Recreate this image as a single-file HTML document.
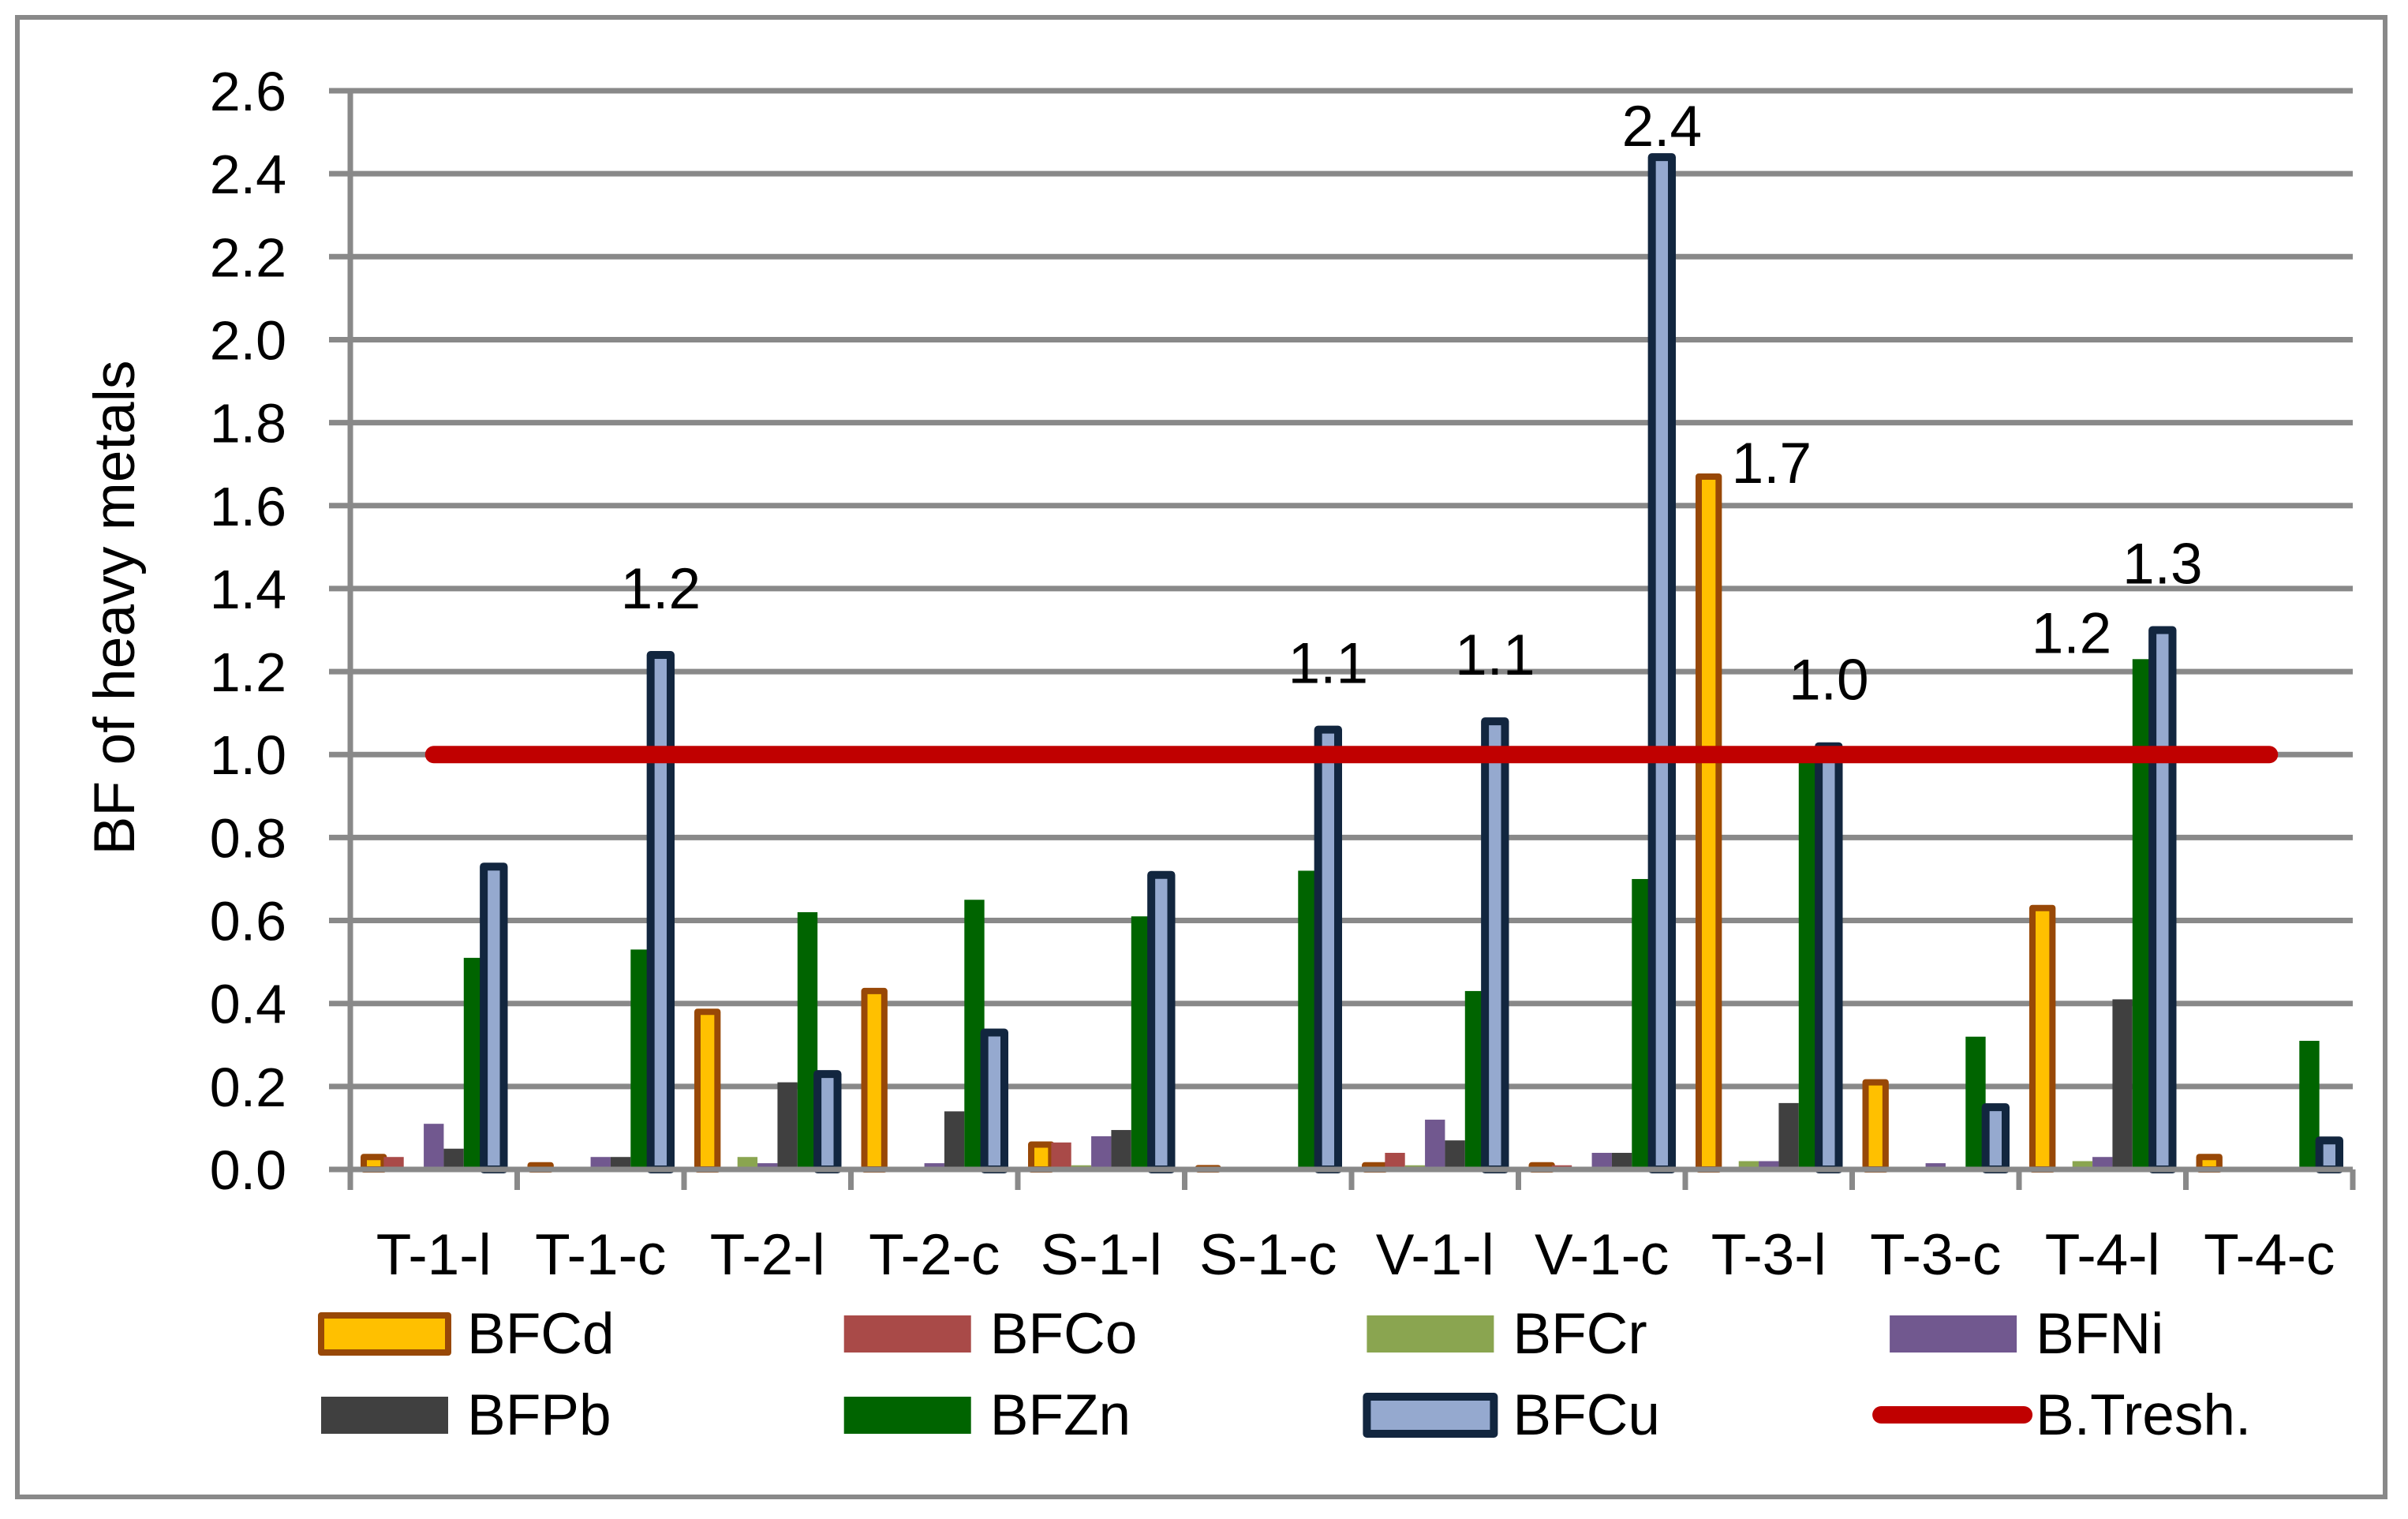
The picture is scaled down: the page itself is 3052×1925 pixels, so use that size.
<!DOCTYPE html>
<html><head><meta charset="utf-8"><style>
html,body{margin:0;padding:0;background:#fff;}
svg{display:block;font-family:"Liberation Sans",sans-serif;}
</style></head><body>
<svg id="chart" width="3052" height="1925" viewBox="0 0 3052 1925" xmlns="http://www.w3.org/2000/svg">
<rect x="22" y="22" width="3001" height="1875" fill="#fff" stroke="#898989" stroke-width="6"/>
<g id="grid"></g><g id="bars"></g><g id="axes"></g><g id="thresh"></g><g id="labels"></g><g id="legend"></g>
<text x="0" y="0" transform="translate(170,770) rotate(-90)" text-anchor="middle" font-size="73" textLength="627" lengthAdjust="spacingAndGlyphs">BF of heavy metals</text>
</svg>
<script>
const categories = ["T-1-l","T-1-c","T-2-l","T-2-c","S-1-l","S-1-c","V-1-l","V-1-c","T-3-l","T-3-c","T-4-l","T-4-c"];
const seriesNames = ["BFCd","BFCo","BFCr","BFNi","BFPb","BFZn","BFCu"];
const bfCd = [0.03,0.01,0.38,0.43,0.06,0.003,0.01,0.01,1.67,0.21,0.63,0.03];
const bfCo = [0.03,0.005,0,0,0.065,0,0.04,0.01,0,0,0,0];
const bfCr = [0,0,0.03,0.005,0.01,0,0.01,0,0.02,0,0.02,0];
const bfNi = [0.11,0.03,0.015,0.015,0.08,0.003,0.12,0.04,0.02,0.015,0.03,0];
const bfPb = [0.05,0.03,0.21,0.14,0.095,0,0.07,0.04,0.16,0,0.41,0.005];
const bfZn = [0.51,0.53,0.62,0.65,0.61,0.72,0.43,0.70,0.99,0.32,1.23,0.31];
const bfCu = [0.73,1.24,0.23,0.33,0.71,1.06,1.08,2.44,1.02,0.15,1.30,0.07];
const threshold = [1,1,1,1,1,1,1,1,1,1,1,1];
const yTicks = [0,0.2,0.4,0.6,0.8,1.0,1.2,1.4,1.6,1.8,2.0,2.2,2.4,2.6];
// labelled points: [category index, series index]
const labelPoints = [[1,6],[5,6],[6,6],[7,6],[8,0],[8,6],[10,5],[10,6]];

const NS="http://www.w3.org/2000/svg";
const X0=444, X1=2982, Y0=1482, YMAX=2.6, YTOP=115;
const catW=(X1-X0)/categories.length, gap=17, barW=(catW-2*gap)/7;
const y=v=>Y0-(v/YMAX)*(Y0-YTOP);
const xCat=i=>X0+i*catW;
const xBar=(i,s)=>X0+i*catW+gap+s*barW;
const data=[bfCd,bfCo,bfCr,bfNi,bfPb,bfZn,bfCu];
const fills=["#FFC000","#A94A48","#8AA550","#71588F","#404040","#006400","#95A9CF"];
const strokes=["#984807",null,null,null,null,null,"#12263F"];
const sw=[8,0,0,0,0,0,10];
function mk(tag,attrs,parent){const e=document.createElementNS(NS,tag);for(const k in attrs)e.setAttribute(k,attrs[k]);parent.appendChild(e);return e;}
const G=id=>document.getElementById(id);

// gridlines + y tick labels
yTicks.forEach(t=>{
  const l=mk("line",{x1:417,x2:X1,y1:y(t),y2:y(t),stroke:"#898989","stroke-width":7},G("grid"));
  
  
  const tx=mk("text",{x:363,y:y(t)+25,"text-anchor":"end","font-size":70},G("grid"));
  tx.textContent=t.toFixed(1);
  
  
});

// bars
categories.forEach((c,i)=>{
  data.forEach((arr,s)=>{
    const v=arr[i], top=y(v);
    const r=mk("rect",{x:xBar(i,s),y:top,width:barW,height:Math.max(Y0-top,0.01),fill:fills[s]},G("bars"));
    if(strokes[s]){r.setAttribute("stroke",strokes[s]);r.setAttribute("stroke-width",sw[s]);r.setAttribute("stroke-linejoin","round");}
    
    
  });
});

// axes
const xa=mk("line",{x1:417,x2:X1,y1:Y0,y2:Y0,stroke:"#898989","stroke-width":7},G("axes"));


const ya=mk("line",{x1:X0,x2:X0,y1:YTOP-3,y2:1508,stroke:"#898989","stroke-width":7},G("axes"));


for(let i=1;i<=categories.length;i++){
  const t=mk("line",{x1:xCat(i),x2:xCat(i),y1:Y0,y2:1508,stroke:"#898989","stroke-width":7},G("axes"));
  
  
}
categories.forEach((c,i)=>{
  const t=mk("text",{x:xCat(i)+catW/2,y:1615,"text-anchor":"middle","font-size":73},G("axes"));
  t.textContent=c;
  
  
});

// threshold line
const pts=threshold.map((v,i)=>(xCat(i)+catW/2)+","+y(v)).join(" ");
const tl=mk("polyline",{points:pts,fill:"none",stroke:"#C00000","stroke-width":22,"stroke-linecap":"round"},G("thresh"));



// data labels
labelPoints.forEach(([i,s])=>{
  const v=data[s][i], cx=xBar(i,s)+barW/2;
  let x=cx, yy=y(v)-59, anchor="middle";
  if(s===0){x=cx+29;yy=y(v)+8;anchor="start";}
  else if(s===5){x=cx-90;yy=y(v)-8;}
  else if(y(v)-59<180){yy=y(v)-14;}
  const t=mk("text",{x:x,y:yy,"text-anchor":anchor,"font-size":73},G("labels"));
  t.textContent=v.toFixed(1);
  
  
});

// legend
const legendOrder=[0,1,2,3,4,5,6,7];
legendOrder.forEach((k,n)=>{
  const col=n%4,row=Math.floor(n/4);
  const sx=407+col*662.7, cy=row===0?1690:1793;
  const g=mk("g",{},G("legend"));
  
  
  if(k===7){
    mk("line",{x1:sx-11,x2:sx+170,y1:cy,y2:cy,stroke:"#C00000","stroke-width":22,"stroke-linecap":"round"},g);
  } else if(strokes[k]){
    mk("rect",{x:sx,y:cy-23,width:161,height:47,fill:fills[k],stroke:strokes[k],"stroke-width":sw[k],"stroke-linejoin":"round"},g);
  } else {
    mk("rect",{x:sx,y:cy-23,width:161,height:47,fill:fills[k]},g);
  }
  const t=mk("text",{x:sx+185,y:cy+25,"font-size":73},g);
  t.textContent=k===7?"B.Tresh.":seriesNames[k];
});
</script>
</body></html>
